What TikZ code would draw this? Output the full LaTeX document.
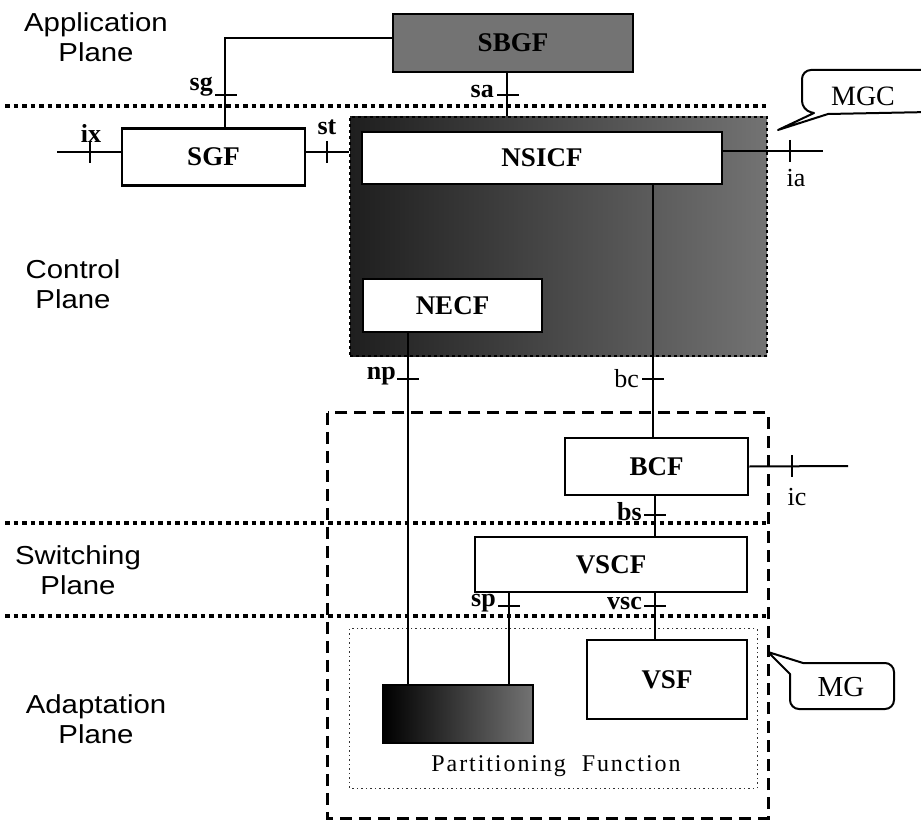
\documentclass[tikz,border=0pt]{standalone}
\usepackage{fontspec}
\setmainfont{Liberation Serif}
\newfontfamily\planefont[FakeStretch=1.13]{Liberation Sans}
\newfontfamily\partfont[LetterSpace=8]{Liberation Serif}
\begin{document}
\begin{tikzpicture}[x=1pt,y=-1pt,
  fbox/.style={draw, line width=2.5pt, fill=white, inner sep=0pt,
    font=\fontsize{27}{30}\selectfont\bfseries},
  conn/.style={line width=2pt},
  thinconn/.style={line width=1.1pt},
  tk/.style={line width=2pt},
  lbl/.style={inner sep=1pt, font=\fontsize{26}{28}\selectfont\bfseries},
  lbll/.style={inner sep=1pt, font=\fontsize{26}{28}\selectfont},
  plane/.style={align=center, inner sep=0pt,
    font=\fontsize{26}{30}\selectfont\planefont},
  planeline/.style={line width=4pt, dash pattern=on 4.5pt off 4pt},
  mgline/.style={line width=2.8pt, dash pattern=on 12pt off 7pt},
  partline/.style={line width=1pt, dash pattern=on 1.5pt off 3pt, black!80},
  callout/.style={line width=2pt, fill=white, line join=round},
  ctext/.style={inner sep=0pt, font=\fontsize{28}{30}\selectfont}
]
\useasboundingbox (0,0) rectangle (921,824);

% plane labels
\node[plane] (appl) at (96,37) {Application\\Plane};
\node[plane] (ctrl) at (73,284) {Control\\Plane};
\node[plane] (swit) at (78,570) {Switching\\Plane};
\node[plane] (adap) at (96,719) {Adaptation\\Plane};

% MGC region
\node[draw, dashed, line width=1.5pt, left color=black!88, right color=black!55,
      minimum width=417pt, minimum height=239pt, inner sep=0pt] (mgc) at (558.5,236.5) {};

% MG region and partitioning function
\node[draw=none, minimum width=440pt, minimum height=405pt, inner sep=0pt] (mg) at (548,615.5) {};
\draw[mgline] (mg.north west) rectangle (mg.south east);
\node[minimum width=407pt, minimum height=159pt, inner sep=0pt] (part) at (553.5,708.5) {};
\draw[partline] (part.north west) rectangle (part.south east);
\node[inner sep=0pt, font=\fontsize{24}{26}\selectfont\partfont] (partlbl) at (556,766) {Partitioning\ \ Function};

% plane separator lines
\coordinate (l1a) at (5,106);  \coordinate (l1b) at (768,106);
\coordinate (l2a) at (5,523);  \coordinate (l2b) at (768,523);
\coordinate (l3a) at (5,616);  \coordinate (l3b) at (768,616);
\draw[planeline] (l1a) -- (l1b);
\draw[planeline] (l2a) -- (l2b);
\draw[planeline] (l3a) -- (l3b);

% boxes
\node[fbox, fill=black!55, minimum width=240pt, minimum height=58pt] (sbgr) at (513,43) {SBGF};
\node[fbox, minimum width=183pt, minimum height=57pt] (sgf) at (213.5,157) {SGF};
\node[fbox, minimum width=360pt, minimum height=52pt] (nsicf) at (542,158) {NSICF};
\node[fbox, minimum width=179pt, minimum height=53pt] (necf) at (452.5,305.5) {NECF};
\node[fbox, minimum width=183pt, minimum height=57pt] (bcf) at (656.5,466.5) {BCF};
\node[fbox, minimum width=272pt, minimum height=55pt] (vscf) at (611,564.5) {VSCF};
\node[fbox, minimum width=160pt, minimum height=79pt] (vsf) at (667,679.5) {VSF};
\node[draw, line width=2pt, left color=black, right color=black!55,
      minimum width=150pt, minimum height=58pt, inner sep=0pt] (blk) at (458,714) {};

% connectors
\coordinate (ixend) at (57,152);
\coordinate (iaend) at (823,151);
\coordinate (icend) at (848,466);
\draw[conn] ([yshift=5pt]sbgr.west) -| ([xshift=11.5pt]sgf.north);
\draw[conn] ([xshift=-6pt]sbgr.south) -- ([xshift=-6pt]sbgr.south |- mgc.north);
\draw[conn] (ixend) -- (ixend -| sgf.west);
\draw[conn] ([yshift=5pt]sgf.east) -- ([yshift=5pt]sgf.east -| mgc.west);
\draw[conn] ([yshift=7pt]nsicf.east) -- (iaend);
\draw[line width=2.5pt] ([xshift=-44.5pt]necf.south) -- ([xshift=-44.5pt]necf.south |- blk.north);
\draw[conn] ([xshift=111pt]nsicf.south) -- ([xshift=111pt]nsicf.south |- bcf.north);
\draw[conn] (bcf.east) -- (icend);
\draw[thinconn] ([xshift=-1.5pt]bcf.south) -- ([xshift=-1.5pt]bcf.south |- vscf.north);
\draw[thinconn] ([xshift=-102pt]vscf.south) -- ([xshift=-102pt]vscf.south |- blk.north);
\draw[thinconn] ([xshift=44pt]vscf.south) -- ([xshift=44pt]vscf.south |- vsf.north);

% ticks
\draw[tk] (215,95) -- (237,95);   % sg
\draw[tk] (497,95) -- (519,95);   % sa
\draw[tk] (90,141) -- (90,163);   % ix
\draw[tk] (327,141) -- (327,163); % st
\draw[tk] (790,140) -- (790,162); % ia
\draw[tk] (397,379) -- (419,379); % np
\draw[tk] (642,379) -- (664,379); % bc
\draw[tk] (792,455) -- (792,477); % ic
\draw[thinconn] (644,515) -- (666,515); % bs
\draw[thinconn] (498,606) -- (520,606); % sp
\draw[thinconn] (644,606) -- (666,606); % vsc

% interface labels
\node[lbl, anchor=east] (sglbl) at (214,87) {sg};
\node[lbl, anchor=east] (salbl) at (495,92) {sa};
\node[lbl] (ixlbl) at (91,133) {ix};
\node[lbl] (stlbl) at (327,127) {st};
\node[lbll] (ialbl) at (796,178) {ia};
\node[lbl, anchor=east] (nplbl) at (397,376) {np};
\node[lbll, anchor=east] (bclbl) at (640,379) {bc};
\node[lbll] (iclbl) at (797,497) {ic};
\node[lbl, anchor=east] (bslbl) at (643,512) {bs};
\node[lbl, anchor=east] (splbl) at (497,603) {sp};
\node[lbl, anchor=east] (vsclbl) at (643,603) {vsc};

% MGC callout
\coordinate (mgctip) at (778,130);
\draw[callout] (930,112) -- (828,114) -- (mgctip) -- (814,113)
  [rounded corners=9pt] -- (802,110) -- (802,70) -- (930,70);
\node[ctext] (mgclbl) at (863,96) {MGC};

% MG callout
\coordinate (mgtip) at (768,652);
\draw[callout] (803,663) -- (mgtip) -- (790,674)
  [rounded corners=9pt] -- (790,709) -- (894,709) -- (894,663) -- (803,663);
\node[ctext, font=\fontsize{29}{30}\selectfont] (mglbl) at (841,687) {MG};
\end{tikzpicture}
\end{document}
